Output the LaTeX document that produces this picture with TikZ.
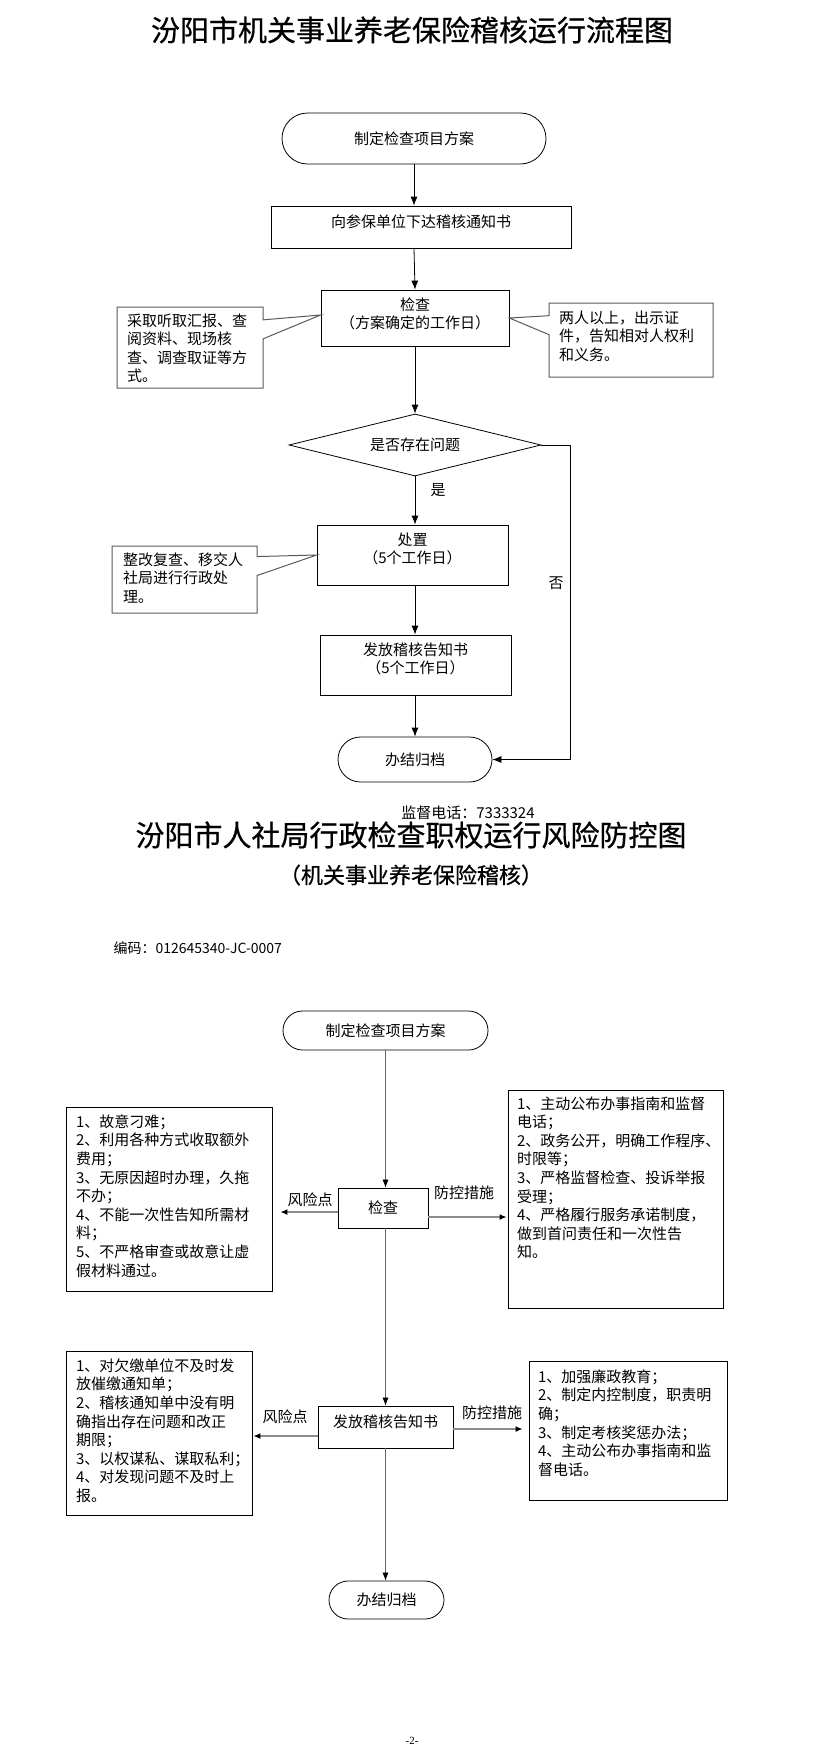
\documentclass[tikz,border=0pt]{standalone}
\usepackage{fontspec}
\setmainfont{Noto Sans CJK SC}
\newfontfamily\titlefont[FakeBold=0.6]{Noto Sans CJK SC}
\newfontfamily\pagenofont{Liberation Serif}
\usetikzlibrary{shapes.geometric,shapes.misc,shapes.callouts,arrows.meta,calc}

% text block with top padding inside a fixed box
\newcommand{\cbox}[4][7.5pt]{\parbox[c][#3][t]{#2}{\vspace*{#1}#4}}

\tikzset{
  every node/.style={font=\fontsize{15}{18.6}\selectfont},
  box/.style={draw,rectangle,inner sep=0pt,line width=0.8pt},
  term/.style={draw,rounded rectangle,inner sep=0pt,line width=0.8pt},
  decide/.style={draw,diamond,aspect=4,inner sep=0pt,line width=0.8pt},
  note/.style={draw=black!65,rectangle callout,inner sep=0pt,line width=1pt,callout pointer width=19pt},
  arr/.style={-{Latex[length=9pt,width=7pt]},line width=0.8pt},
  thinarr/.style={-{Latex[length=8pt,width=6pt,black]},draw=black!60,line width=0.6pt},
  sidearr/.style={-{Latex[length=7pt,width=6pt,black]},draw=black!45,line width=2pt},
  bigtitle/.style={font=\titlefont\fontsize{29}{29}\selectfont}
}

\begin{document}
\begin{tikzpicture}[x=1pt,y=-1pt]
\useasboundingbox (0,0) rectangle (823,1759);

% upper chart
\node[bigtitle] (title1) at (412,30) {汾阳市机关事业养老保险稽核运行流程图};

\node[term,minimum width=264pt,minimum height=51pt] (start1) at (414,138.5) {制定检查项目方案};
\node[box] (notice1) at (421,227) {\cbox[8.5pt]{300pt}{42pt}{\centering 向参保单位下达稽核通知书}};
\node[box] (chk1) at (415,318) {\cbox{188pt}{56pt}{\centering 检查\\（方案确定的工作日）}};
\node[decide,minimum width=252pt,minimum height=62pt] (q1) at (415,445) {是否存在问题};
\node[box] (proc1) at (412.5,555) {\cbox{191pt}{60pt}{\centering 处置\\（5个工作日）}};
\node[box] (notify1) at (415.5,665) {\cbox{191pt}{60pt}{\centering 发放稽核告知书\\（5个工作日）}};
\node[term,minimum width=154pt,minimum height=45pt] (end1) at (415,759.5) {办结归档};

\node[note,callout absolute pointer={([yshift=3pt]chk1.west)}] (way1) at (190,347.5)
  {\cbox[6.5pt]{146pt}{81pt}{\leftskip=10pt\relax 采取听取汇报、查\\阅资料、现场核\\查、调查取证等方\\式。}};
\node[note,callout absolute pointer={(chk1.east)}] (rule1) at (631,340)
  {\cbox{164pt}{74pt}{\leftskip=10pt\relax 两人以上，出示证\\件，告知相对人权利\\和义务。}};
\node[note,callout absolute pointer={(proc1.west)}] (fix1) at (184.5,579.5)
  {\cbox[6.5pt]{145pt}{67pt}{\leftskip=11pt\relax 整改复查、移交人\\社局进行行政处\\理。}};

\draw[arr] (start1.south) -- (start1.south |- notice1.north);
\draw[arr] (start1.south |- notice1.south) -- (chk1.north);
\draw[arr] (chk1.south) -- (q1.north);
\draw[arr] (q1.south) -- (q1.south |- proc1.north);
\draw[arr] (q1.south |- proc1.south) -- (q1.south |- notify1.north);
\draw[arr] (q1.south |- notify1.south) -- (end1.north);
\draw[arr] (q1.east) -- ++(29,0) |- (end1.east);

\node (yes1) at (438,490) {是};
\node (no1) at (556,583) {否};
\node (tel1) at (468,813) {监督电话：7333324};

% lower chart
\node[bigtitle] (title2) at (411,835) {汾阳市人社局行政检查职权运行风险防控图};
\node[font=\titlefont\fontsize{22}{22}\selectfont] (sub2) at (411,875) {（机关事业养老保险稽核）};
\node[anchor=west,font=\fontsize{14}{14}\selectfont] (code2) at (110,948) {编码：012645340-JC-0007};

\node[term,minimum width=205pt,minimum height=39pt] (start2) at (385.5,1030.5) {制定检查项目方案};
\node[box,minimum width=90pt,minimum height=40pt] (chk2) at (383,1208) {检查};
\node[box] (notify2) at (385.5,1427) {\cbox[8.5pt]{135pt}{42pt}{\centering 发放稽核告知书}};
\node[term,minimum width=115pt,minimum height=38pt] (end2) at (386.5,1600) {办结归档};

\node[box] (risk1) at (169,1199) {\cbox{206pt}{184pt}{\leftskip=10pt\relax
  1、故意刁难；\\2、利用各种方式收取额外\\费用；\\3、无原因超时办理，久拖\\不办；\\4、不能一次性告知所需材\\料；\\5、不严格审查或故意让虚\\假材料通过。}};
\node[box] (ctrl1) at (615.5,1199) {\cbox[6.5pt]{215pt}{218pt}{\leftskip=9pt\relax
  1、主动公布办事指南和监督\\电话；\\2、政务公开，明确工作程序、\\时限等；\\3、严格监督检查、投诉举报\\受理；\\4、严格履行服务承诺制度，\\做到首问责任和一次性告\\知。}};
\node[box] (risk2) at (159,1433) {\cbox{186pt}{164pt}{\leftskip=10pt\relax
  1、对欠缴单位不及时发\\放催缴通知单；\\2、稽核通知单中没有明\\确指出存在问题和改正\\期限；\\3、以权谋私、谋取私利；\\4、对发现问题不及时上\\报。}};
\node[box] (ctrl2) at (628,1430.5) {\cbox[8.5pt]{198pt}{139pt}{\leftskip=9pt\relax
  1、加强廉政教育；\\2、制定内控制度，职责明\\确；\\3、制定考核奖惩办法；\\4、主动公布办事指南和监\\督电话。}};

\draw[thinarr] (start2.south) -- (start2.south |- chk2.north);
\draw[thinarr] (start2.south |- chk2.south) -- (start2.south |- notify2.north);
\draw[thinarr] (notify2.south) -- (notify2.south |- end2.north);

\draw[sidearr] ($(chk2.west)+(0,4)$) -- ($(chk2.west -| risk1.east)+(8,4)$);
\draw[sidearr] ($(chk2.east)+(0,9)$) -- ($(chk2.east -| ctrl1.west)+(-1,9)$);
\draw[sidearr] ($(notify2.west)+(0,9)$) -- ($(notify2.west -| risk2.east)+(1,9)$);
\draw[sidearr] ($(notify2.east)+(0,2)$) -- ($(notify2.east -| ctrl2.west)+(-6,2)$);

\node (riskl1) at (310,1200) {风险点};
\node (ctrll1) at (464,1193) {防控措施};
\node (riskl2) at (285,1417) {风险点};
\node (ctrll2) at (492,1413) {防控措施};

\node[font=\pagenofont\fontsize{11}{11}\selectfont] (page) at (412,1741) {-2-};
\end{tikzpicture}
\end{document}
